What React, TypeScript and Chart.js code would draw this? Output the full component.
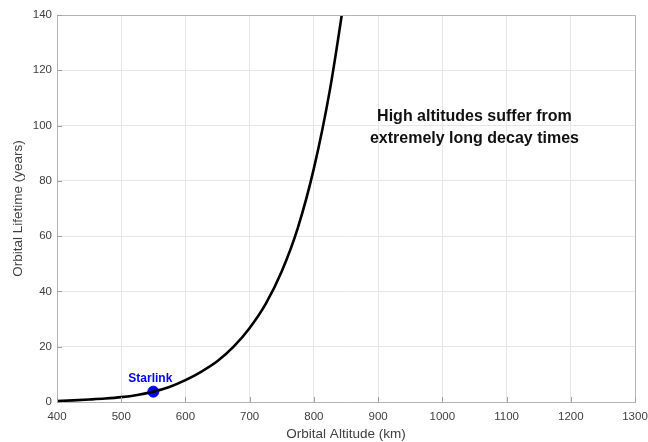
import React, { useEffect, useRef } from "react";
import { Chart, registerables } from "chart.js";

Chart.register(...registerables);

const altitudes = [400, 425, 450, 475, 500, 525, 550, 575, 600, 625, 650, 675, 700, 725, 750, 775, 800, 825, 850];
const lifetimes = [0.35, 0.6, 0.9, 1.25, 1.75, 2.55, 3.75, 5.45, 7.9, 11.0, 14.8, 20.0, 26.8, 35.5, 47.3, 63.0, 84.5, 113, 150];
const starlinkAltitude = [550];
const starlinkLifetime = [3.75];
const starlinkLabel = "Starlink";
const noteLines = ["High altitudes suffer from", "extremely long decay times"];
const noteAltitude = 1050;
const noteLifetimes = [103.3, 95.3];
const xTitle = "Orbital Altitude (km)";
const yTitle = "Orbital Lifetime (years)";

const FONT = "'Liberation Sans', Arial, Helvetica, sans-serif";

const decorPlugin = {
  id: "decor",
  afterDraw(chart: any) {
    const ctx = chart.ctx;
    const { left, right, top, bottom } = chart.chartArea;
    const xs = chart.scales.x;
    const ys = chart.scales.y;
    ctx.save();
    ctx.strokeStyle = "#b4b4b4";
    ctx.lineWidth = 1;
    ctx.beginPath();
    ctx.moveTo(left, top + 0.5);
    ctx.lineTo(right + 0.5, top + 0.5);
    ctx.lineTo(right + 0.5, bottom);
    ctx.stroke();
    ctx.strokeStyle = "#a0a0a0";
    ctx.beginPath();
    xs.ticks.forEach((t: any) => {
      const px = Math.round(xs.getPixelForValue(t.value)) + 0.5;
      ctx.moveTo(px, bottom);
      ctx.lineTo(px, bottom - 5);
    });
    ys.ticks.forEach((t: any) => {
      const py = Math.round(ys.getPixelForValue(t.value)) + 0.5;
      ctx.moveTo(left, py);
      ctx.lineTo(left + 5, py);
    });
    ctx.stroke();
    ctx.fillStyle = "#0000ff";
    ctx.font = `bold 12px ${FONT}`;
    ctx.textAlign = "center";
    ctx.textBaseline = "alphabetic";
    const sx = xs.getPixelForValue(starlinkAltitude[0]);
    const sy = ys.getPixelForValue(starlinkLifetime[0]);
    ctx.fillText(starlinkLabel, sx - 3, sy - 10);
    ctx.fillStyle = "#111111";
    ctx.font = `bold 16px ${FONT}`;
    ctx.textBaseline = "middle";
    noteLines.forEach((line, i) => {
      ctx.fillText(line, xs.getPixelForValue(noteAltitude), ys.getPixelForValue(noteLifetimes[i]));
    });
    ctx.restore();
  },
};

export default function App() {
  const ref = useRef<HTMLCanvasElement>(null);
  useEffect(() => {
    const chart = new Chart(ref.current!, {
      type: "line",
      data: {
        datasets: [
          {
            data: altitudes.map((a, i) => ({ x: a, y: lifetimes[i] })),
            borderColor: "#000000",
            borderWidth: 2.6,
            pointRadius: 0,
            cubicInterpolationMode: "monotone",
            fill: false,
          },
          {
            type: "scatter",
            data: starlinkAltitude.map((a, i) => ({ x: a, y: starlinkLifetime[i] })),
            backgroundColor: "#0000ff",
            borderColor: "#0000ff",
            pointRadius: 5.5,
          } as any,
        ],
      },
      options: {
        animation: false,
        responsive: false,
        maintainAspectRatio: false,
        layout: { padding: { left: 0, top: 15, right: 0, bottom: 0 } },
        plugins: { legend: { display: false }, tooltip: { enabled: false } },
        scales: {
          x: {
            type: "linear",
            min: 400,
            max: 1300,
            ticks: {
              stepSize: 100,
              color: "#404040",
              font: { family: FONT, size: 11.5 },
              padding: 8,
              maxRotation: 0,
              callback: (v: any) => String(v),
            },
            grid: { color: "#e6e6e6", tickLength: 0 },
            border: { color: "#b4b4b4" },
            title: { display: true, text: xTitle, color: "#404040", font: { family: FONT, size: 13.5 }, padding: { top: 0, bottom: 0 } },
            afterFit: (s: any) => { s.height = 40; s.paddingRight = 13; s.paddingLeft = 0; },
          },
          y: {
            min: 0,
            max: 140,
            ticks: {
              stepSize: 20,
              color: "#404040",
              font: { family: FONT, size: 11.5 },
              padding: 5,
              callback: (v: any) => String(v),
            },
            grid: { color: "#e6e6e6", tickLength: 0 },
            border: { color: "#b4b4b4" },
            title: { display: true, text: yTitle, color: "#404040", font: { family: FONT, size: 13.5 }, padding: { top: 10, bottom: 0 } },
            afterFit: (s: any) => { s.width = 57; s.paddingTop = 0; s.paddingBottom = 0; },
          },
        },
      },
      plugins: [decorPlugin],
    });
    return () => chart.destroy();
  }, []);
  return (
    <div style={{ position: "fixed", left: 0, top: 0, width: 648, height: 442, background: "#fff" }}>
      <canvas ref={ref} width={648} height={442} style={{ width: 648, height: 442 }} />
    </div>
  );
}
